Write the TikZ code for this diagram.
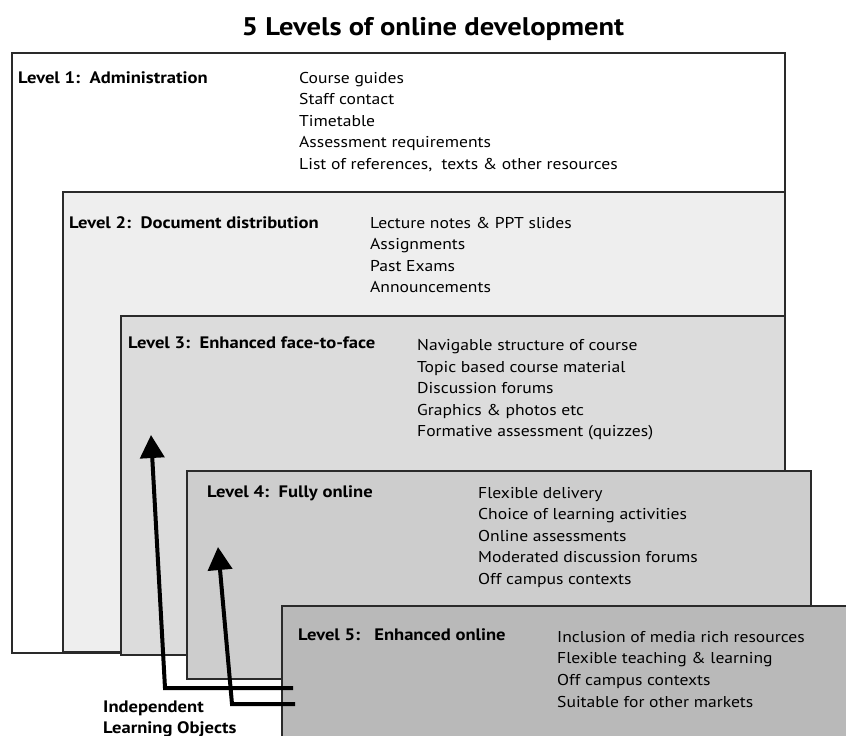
\documentclass[tikz,border=0pt]{standalone}
\usepackage{fontspec}
\setmainfont{PT Sans}[FakeStretch=1.12]
\usetikzlibrary{arrows.meta}
\definecolor{bordercol}{HTML}{2A2A2A}
\definecolor{fillA}{HTML}{FFFFFF}
\definecolor{fillB}{HTML}{EEEEEE}
\definecolor{fillC}{HTML}{DCDCDC}
\definecolor{fillD}{HTML}{CDCDCD}
\definecolor{fillE}{HTML}{B9B9B9}
\tikzset{
  levelbox/.style={draw=bordercol, line width=1.8pt, anchor=north west, inner sep=0pt, outer sep=0pt},
  itemtxt/.style={anchor=base west, inner sep=0pt, font=\fontsize{15.7}{18}\selectfont},
  headtxt/.style={anchor=base west, inner sep=0pt, font=\fontsize{16.6}{19}\selectfont\bfseries},
  titletxt/.style={anchor=base, inner sep=0pt, font=\fontsize{25.5}{28}\selectfont\bfseries},
  ilo/.style={line width=4pt, -{Triangle[width=24pt,length=23pt]}}
}
\begin{document}
\begin{tikzpicture}[x=1pt,y=-1pt]
\useasboundingbox (0,0) rectangle (846,736);
\fill[white] (0,0) rectangle (846,736);
\node[titletxt] (title) at (433,35) {5 Levels of online development};
% boxes
\node[levelbox, fill=fillA, minimum width=773pt, minimum height=600pt] (L1) at (12,53) {};
\node[levelbox, fill=fillB, minimum width=722pt, minimum height=460pt] (L2) at (63,192) {};
\node[levelbox, fill=fillC, minimum width=664pt, minimum height=339pt] (L3) at (121,316) {};
\node[levelbox, fill=fillD, minimum width=624pt, minimum height=208pt] (L4) at (187,471) {};
\node[levelbox, fill=fillE, minimum width=600pt, minimum height=200pt] (L5) at (282,606) {};
% level 1
\node[headtxt] (h1) at (18,83) {Level 1:\ \ Administration};
\node[itemtxt] (a1) at (299,83) {Course guides};
\node[itemtxt] (a2) at (299,104.5) {Staff contact};
\node[itemtxt] (a3) at (299,126) {Timetable};
\node[itemtxt] (a4) at (299,147.5) {Assessment requirements};
\node[itemtxt] (a5) at (299,169) {List of references,\ \ texts \& other resources};
% level 2
\node[headtxt] (h2) at (69,228) {Level 2:\ \ Document distribution};
\node[itemtxt] (b1) at (370,228) {Lecture notes \& PPT slides};
\node[itemtxt] (b2) at (370,249.5) {Assignments};
\node[itemtxt] (b3) at (370,271) {Past Exams};
\node[itemtxt] (b4) at (370,292.5) {Announcements};
% level 3
\node[headtxt] (h3) at (128,348) {Level 3:\ \ Enhanced face-to-face};
\node[itemtxt] (c1) at (417,350.5) {Navigable structure of course};
\node[itemtxt] (c2) at (417,372) {Topic based course material};
\node[itemtxt] (c3) at (417,393.5) {Discussion forums};
\node[itemtxt] (c4) at (417,415) {Graphics \& photos etc};
\node[itemtxt] (c5) at (417,436.5) {Formative assessment (quizzes)};
% level 4
\node[headtxt] (h4) at (207,497) {Level 4:\ \ Fully online};
\node[itemtxt] (d1) at (478,498) {Flexible delivery};
\node[itemtxt] (d2) at (478,519.5) {Choice of learning activities};
\node[itemtxt] (d3) at (478,541) {Online assessments};
\node[itemtxt] (d4) at (478,562.5) {Moderated discussion forums};
\node[itemtxt] (d5) at (478,584) {Off campus contexts};
% level 5
\node[headtxt] (h5) at (298,640) {Level 5:\ \ \ Enhanced online};
\node[itemtxt] (e1) at (557,642) {Inclusion of media rich resources};
\node[itemtxt] (e2) at (557,663.7) {Flexible teaching \& learning};
\node[itemtxt] (e3) at (557,685.3) {Off campus contexts};
\node[itemtxt] (e4) at (557,707) {Suitable for other markets};
% independent learning objects
\node[headtxt] (ilo1) at (103,712) {Independent};
\node[headtxt] (ilo2) at (103,733) {Learning Objects};
% arrows
\coordinate (s1) at (293,688);
\coordinate (k1) at (165,688);
\coordinate (t1) at (151,435);
\coordinate (s2) at (295,704);
\coordinate (k2) at (232,704);
\coordinate (t2) at (218,547);
\draw[ilo] (s1) -- (k1) -- (t1);
\draw[ilo] (s2) -- (k2) -- (t2);
\end{tikzpicture}
\end{document}
